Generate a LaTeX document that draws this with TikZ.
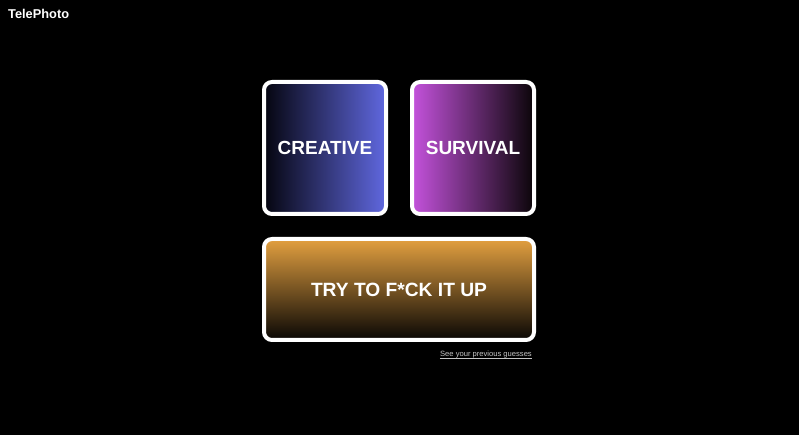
\documentclass[tikz,border=0pt]{standalone}
\usepackage{fontspec}
\setmainfont{Liberation Sans}
\begin{document}
\begin{tikzpicture}[x=1pt,y=1pt,
  card/.style={draw=white, line width=4pt, rounded corners=8pt, inner sep=0pt},
  cardtext/.style={text=white, font=\bfseries\fontsize{19}{19}\selectfont}]
\definecolor{indigoR}{HTML}{6068E0}
\definecolor{navyL}{HTML}{05050F}
\definecolor{purpL}{HTML}{C452DC}
\definecolor{purpR}{HTML}{0A0508}
\definecolor{amberT}{HTML}{E3A040}
\definecolor{amberB}{HTML}{080604}
\definecolor{linkgray}{HTML}{C4C4C4}
\fill[black] (0,0) rectangle (799,435);
\useasboundingbox (0,0) rectangle (799,435);
\node[anchor=west, inner sep=0pt, text=white, font=\bfseries\fontsize{12.8}{13}\selectfont] (title) at (8,421) {TelePhoto};
\node[card, left color=navyL, right color=indigoR, minimum width=122pt, minimum height=132pt] (creative) at (325,287) {};
\node[cardtext] (creativet) at (creative.center) {CREATIVE};
\node[card, left color=purpL, right color=purpR, minimum width=122pt, minimum height=132pt] (survival) at (473,287) {};
\node[cardtext] (survivalt) at (survival.center) {SURVIVAL};
\node[card, top color=amberT, bottom color=amberB, minimum width=270pt, minimum height=101pt] (fuckup) at (399,145.5) {};
\node[cardtext, font=\bfseries\fontsize{19.2}{19}\selectfont] (fuckupt) at (fuckup.center) {TRY TO F*CK IT UP};
\node[anchor=base east, text=linkgray, font=\fontsize{7.6}{8}\selectfont, inner sep=0pt] (link) at (532,78) {See your previous guesses};
\draw[linkgray, line width=0.6pt] ([yshift=-1.2pt]link.base west) -- ([yshift=-1.2pt]link.base east);
\end{tikzpicture}
\end{document}
